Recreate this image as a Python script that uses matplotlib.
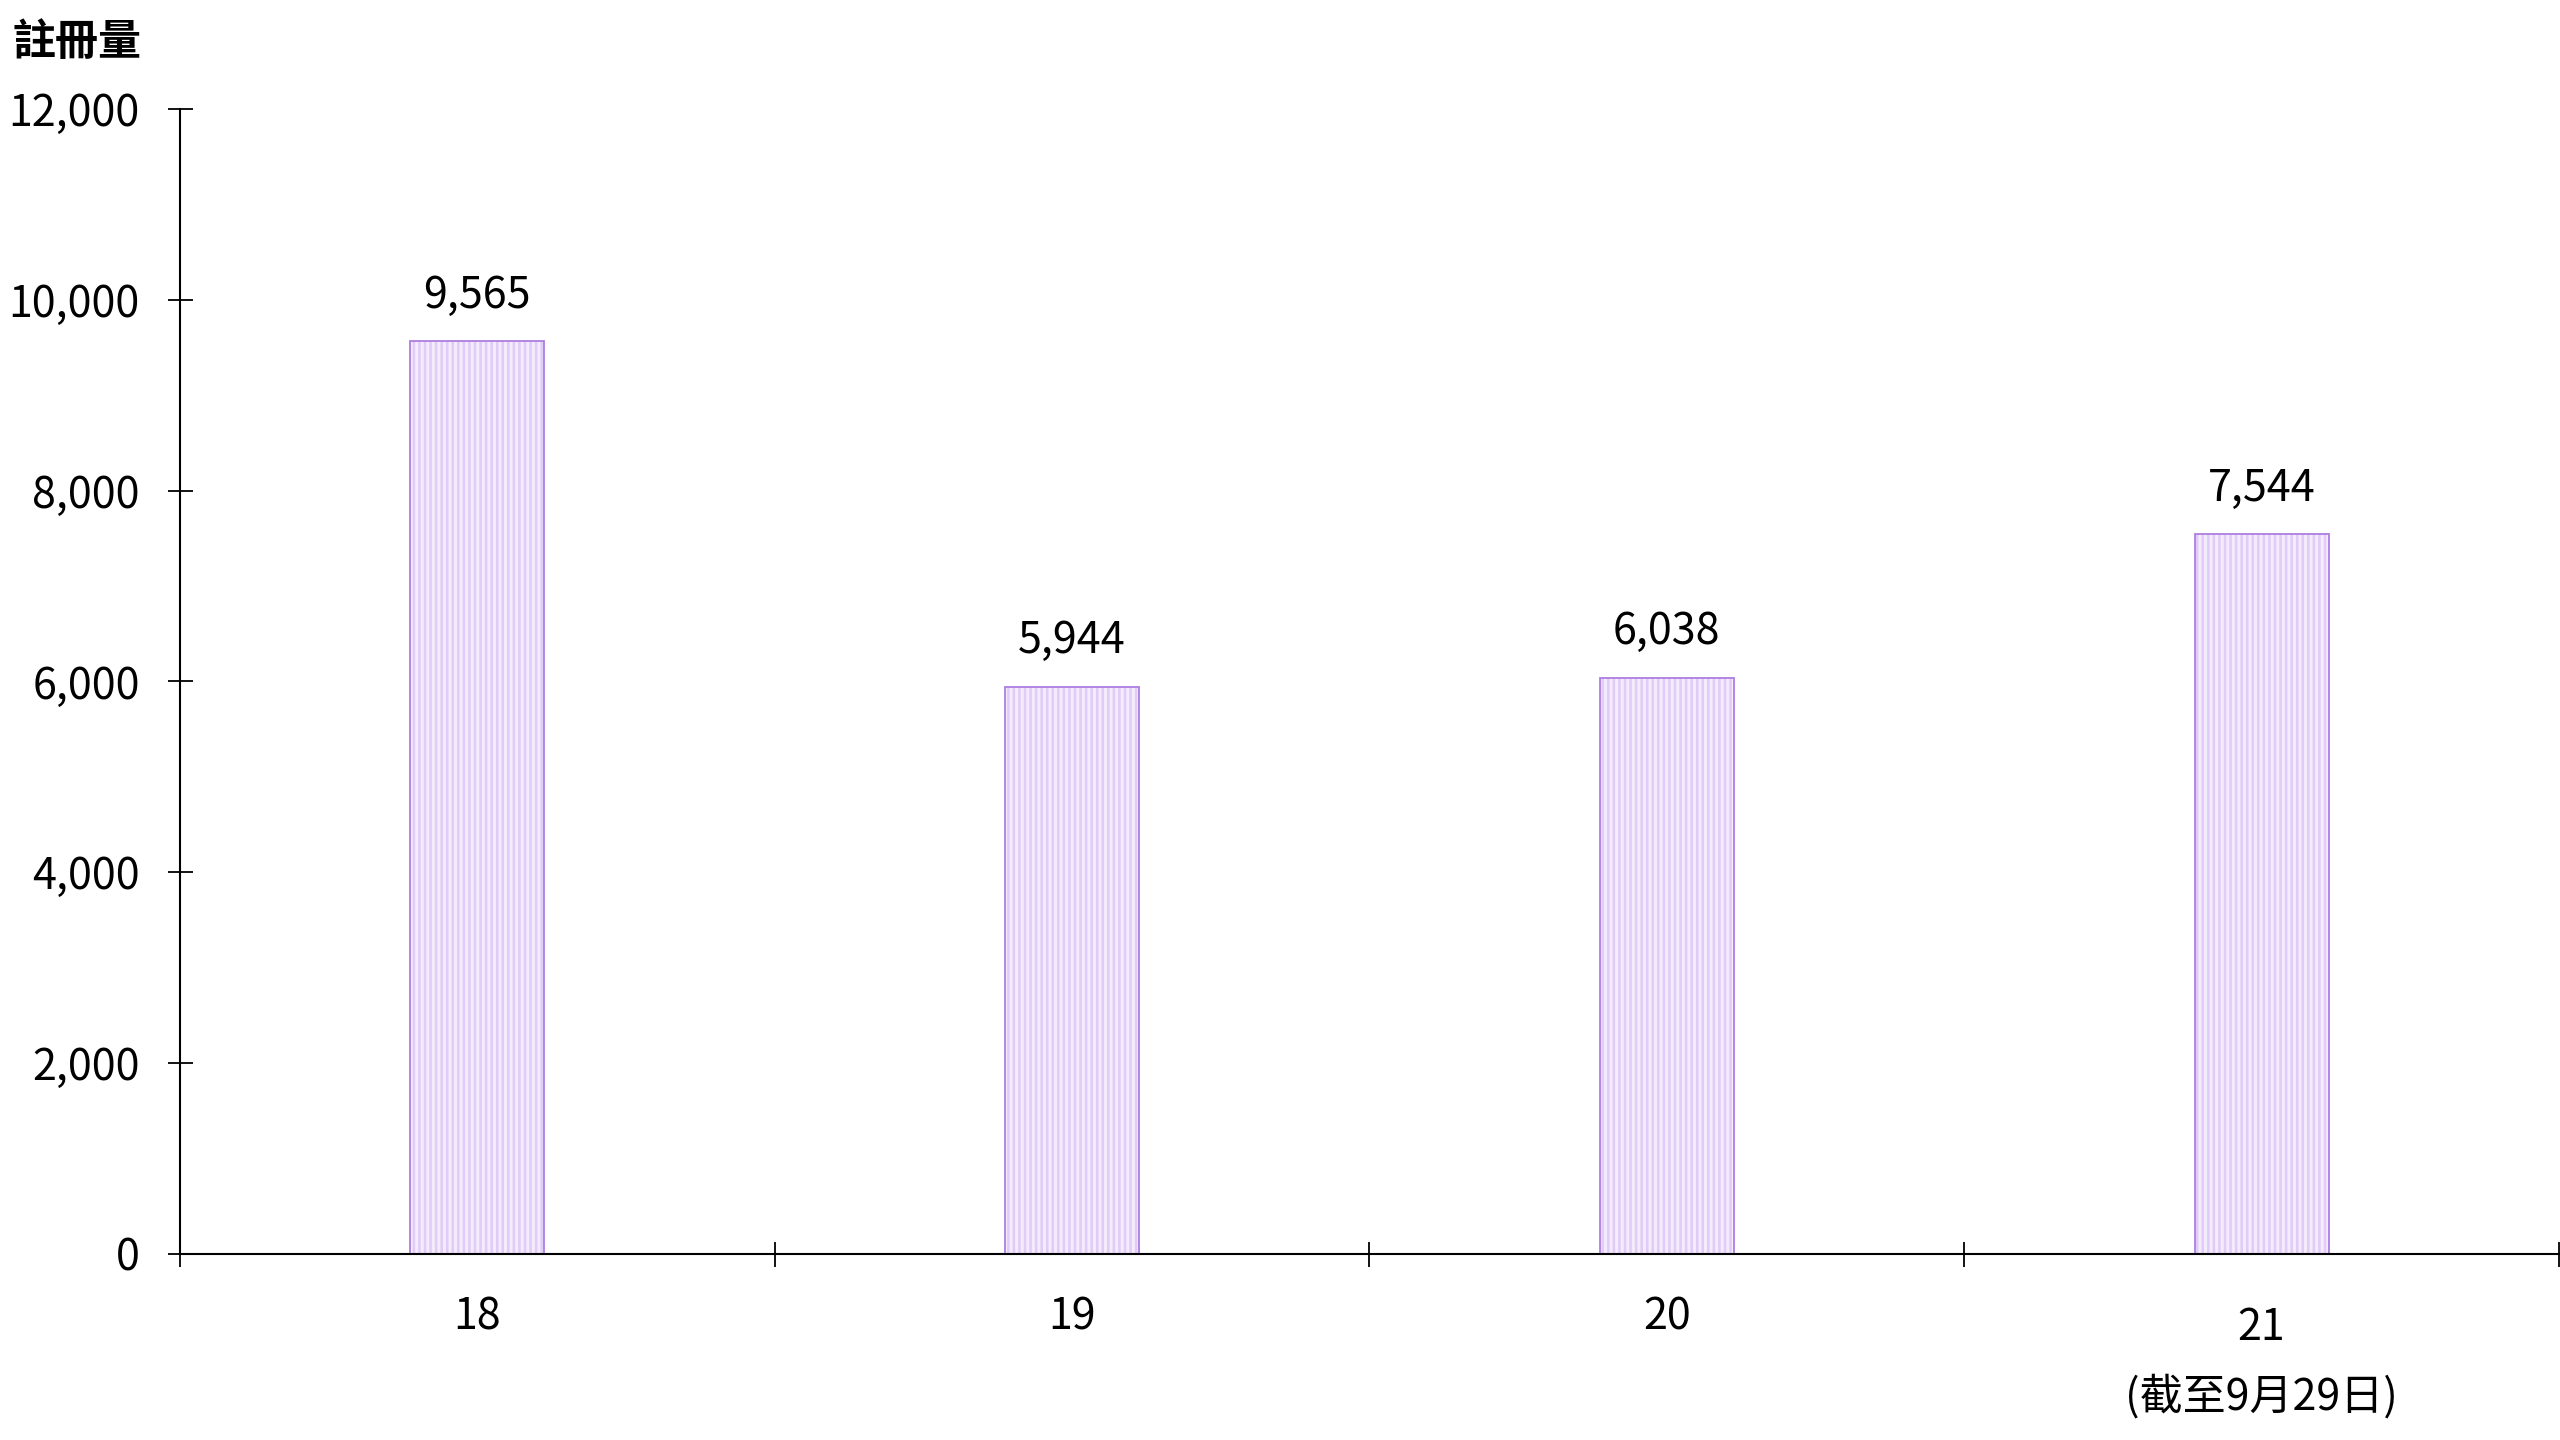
import numpy as np
import matplotlib
matplotlib.use('Agg')
import matplotlib.pyplot as plt
import matplotlib.transforms as mtrans

plt.rcParams['font.family'] = ['Noto Sans CJK TC', 'DejaVu Sans']
plt.rcParams['hatch.linewidth'] = 1.8

# data
years = ['18', '19', '20', '21']
counts = [9565, 5944, 6038, 7544]
note = '(截至9月29日)'
ylabel = '註冊量'
yticks = [0, 2000, 4000, 6000, 8000, 10000, 12000]

fig = plt.figure(figsize=(25.6, 14.4), dpi=100)
ax = fig.add_axes([0.0703, 0.1292, 0.9293, 0.7951])

x = np.arange(len(years))
w = 0.225
# striped fill, then the purple outline on top
ax.bar(x, counts, w, color='#f4ecfc', edgecolor='#e0ccf6', hatch='|||', linewidth=0)
ax.bar(x, counts, w, fill=False, edgecolor='#ad7ee0', linewidth=1.3)

for xi, v in zip(x, counts):
    ax.annotate(f'{v:,}', (xi, v), xytext=(0, 17), textcoords='offset points',
                ha='center', va='bottom', fontsize=31)

ax.set_xlim(-0.5, 3.5)
ax.set_ylim(0, 12000)
ax.set_yticks(yticks)
ax.set_yticklabels([f'{t:,}' for t in yticks])
ax.set_xticks(np.arange(-0.5, 4.0, 1.0))
ax.set_xticklabels([])
ax.set_xticks(x[:-1], minor=True)
ax.set_xticklabels(years[:-1], minor=True)

ax.tick_params(axis='both', which='major', direction='inout', length=18, width=1.3,
               labelsize=31, colors='black')
ax.tick_params(axis='y', pad=20)
ax.tick_params(axis='x', which='minor', length=0, labelsize=31, pad=30)

for s in ['top', 'right']:
    ax.spines[s].set_visible(False)
for s in ['left', 'bottom']:
    ax.spines[s].set_linewidth(1.5)
    ax.spines[s].set_color('black')

# last category carries a second line, drawn a bit lower like the original
trans = mtrans.blended_transform_factory(ax.transData, ax.transAxes)
ax.text(3, -0.065, years[-1], transform=trans, ha='center', va='center', fontsize=31)
ax.text(3, -0.125, note, transform=trans, ha='center', va='center', fontsize=31)

fig.text(0.0047, 0.971, ylabel, ha='left', va='center', fontsize=31, fontweight='bold')

fig.savefig('out.png', dpi=100)
